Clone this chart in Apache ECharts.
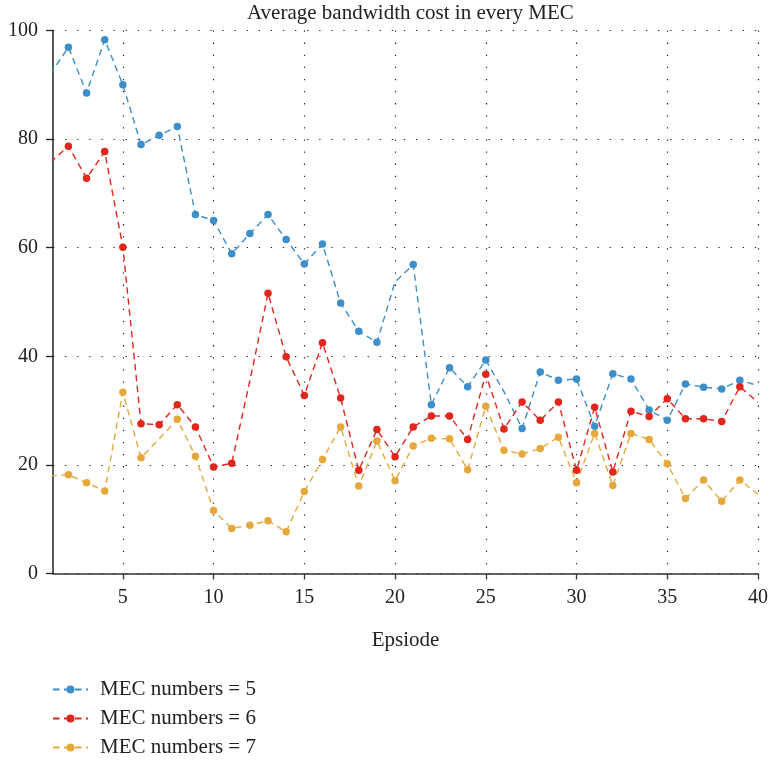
<!DOCTYPE html>
<html>
<head>
<meta charset="utf-8">
<script src="https://cdn.jsdelivr.net/npm/echarts@6/dist/echarts.min.js"></script>
<style>html,body{margin:0;padding:0;background:#fff;}#c{width:772px;height:760px;}</style>
</head>
<body>
<div id="c"></div>
<script>
var episodes = [1,2,3,4,5,6,7,8,9,10,11,12,13,14,15,16,17,18,19,20,21,22,23,24,25,26,27,28,29,30,31,32,33,34,35,36,37,38,39,40];
var mec5 = [92.0,96.9,88.5,98.3,90.0,79.0,80.7,82.3,66.1,65.0,58.9,62.6,66.1,61.5,57.0,60.7,49.8,44.6,42.6,53.7,56.9,31.1,37.9,34.4,39.3,33.5,26.7,37.1,35.6,35.8,27.1,36.8,35.8,30.1,28.2,34.9,34.3,34.0,35.6,34.6];
var mec6 = [75.7,78.7,72.8,77.7,60.1,27.6,27.4,31.1,27.0,19.6,20.3,35.5,51.6,39.9,32.8,42.5,32.3,19.0,26.5,21.5,27.0,29.0,29.0,24.7,36.7,26.6,31.6,28.2,31.6,19.0,30.6,18.7,29.9,28.9,32.2,28.5,28.5,28.0,34.4,31.5];
var mec7 = [18.0,18.2,16.7,15.2,33.4,21.3,24.8,28.4,21.6,11.6,8.3,8.9,9.7,7.7,15.1,21.0,27.0,16.1,24.4,17.1,23.5,24.9,24.8,19.1,30.8,22.7,22.0,23.0,25.1,16.7,25.8,16.2,25.8,24.7,20.2,13.8,17.2,13.3,17.2,14.6];
// episodes whose marker is not drawn in the reference
var noMarker5 = [1,20,26,40];
var noMarker6 = [1,12,40];
var noMarker7 = [1,7,40];
var seriesNames = ['MEC numbers = 5','MEC numbers = 6','MEC numbers = 7'];
var xTicks = [5,10,15,20,25,30,35,40];

var FONT = 'Liberation Serif';
function build(vals, hidden){
  return episodes.map(function(e,i){
    var d = {value:[e, vals[i]]};
    if (hidden.indexOf(e) >= 0) d.symbol = 'none';
    return d;
  });
}
function mk(name, vals, hidden, color){
  return {
    name: name, type:'line', data: build(vals, hidden),
    symbol:'circle', symbolSize:7.5, showAllSymbol:true, clip:true,
    itemStyle:{color:color},
    lineStyle:{color:color, width:1.4, type:[6.5,4.5]},
    emphasis:{disabled:true}, animation:false
  };
}
var chart = echarts.init(document.getElementById('c'), null, {renderer:'canvas'});
chart.setOption({
  animation:false,
  backgroundColor:'#fff',
  title:{text:'Average bandwidth cost in every MEC', left:242, top:-2,
    textStyle:{fontFamily:FONT, fontSize:21, fontWeight:'normal', color:'#222'}},
  grid:{left:53, right:14, top:30.5, bottom:186.5, containLabel:false},
  legend:{orient:'vertical', left:52, top:679, height:120, padding:0, itemWidth:35, itemHeight:10, itemGap:8,
    textStyle:{fontFamily:FONT, fontSize:21, color:'#222', padding:[0,0,0,7]},
    data:seriesNames},
  xAxis:{type:'value', min:1.15, max:40,
    name:'Epsiode', nameLocation:'middle', nameGap:56,
    nameTextStyle:{fontFamily:FONT, fontSize:21, color:'#222'},
    axisLine:{show:true, onZero:false, lineStyle:{color:'#333', width:1.5}},
    axisTick:{show:true, inside:false, length:6, customValues:xTicks, lineStyle:{color:'#333', width:1.3}},
    axisLabel:{customValues:xTicks, margin:14, fontFamily:FONT, fontSize:20, color:'#222'},
    splitLine:{show:true, lineStyle:{color:'#222', width:1.2, type:[1.3,10.8]}}
  },
  yAxis:{type:'value', min:0, max:100, interval:20,
    axisLine:{show:true, lineStyle:{color:'#222', width:1.5}},
    axisTick:{show:true, inside:false, length:7, lineStyle:{color:'#222', width:1.3}},
    axisLabel:{margin:15, fontFamily:FONT, fontSize:20, color:'#222'},
    splitLine:{show:true, lineStyle:{color:'#222', width:1.2, type:[1.3,10.8]}}
  },
  series:[
    mk(seriesNames[0], mec5, noMarker5, '#3d8ec9'),
    mk(seriesNames[1], mec6, noMarker6, '#e1261c'),
    mk(seriesNames[2], mec7, noMarker7, '#e5a93b')
  ]
});
</script>
</body>
</html>
